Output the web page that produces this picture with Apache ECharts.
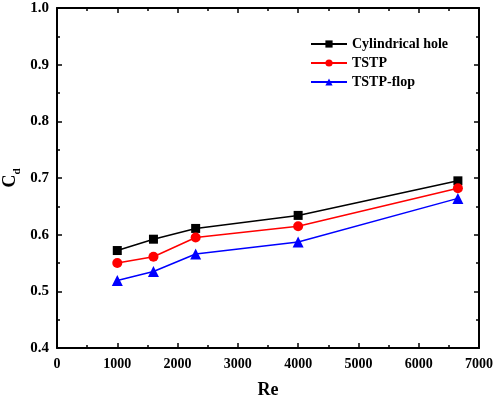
<!DOCTYPE html>
<html><head><meta charset="utf-8">
<script src="https://cdn.jsdelivr.net/npm/echarts@6/dist/echarts.min.js"></script>
<style>html,body{margin:0;padding:0;background:#fff}#c{width:498px;height:398px}</style>
</head><body><div id="c"></div>
<script>
var reValues = [1000, 1600, 2300, 4000, 6650];
var cylindrical = [0.572, 0.592, 0.611, 0.634, 0.695];
var tstp = [0.550, 0.561, 0.595, 0.615, 0.682];
var tstpFlop = [0.519, 0.535, 0.566, 0.587, 0.664];
var seriesNames = ['Cylindrical hole', 'TSTP', 'TSTP-flop'];
var xTicks = [0, 1000, 2000, 3000, 4000, 5000, 6000, 7000];
var yTicks = [0.4, 0.5, 0.6, 0.7, 0.8, 0.9, 1.0];

function pairs(xs, ys) { return xs.map(function (x, i) { return [x, ys[i]]; }); }

var font = '"Liberation Serif", "Times New Roman", serif';
var axisCommon = {
  axisLine: { show: true, onZero: false, lineStyle: { color: '#000', width: 2 } },
  axisTick: { show: true, inside: true, length: 5, lineStyle: { color: '#000', width: 1.5 } },
  minorTick: { show: true, splitNumber: 2, length: 3, lineStyle: { color: '#000', width: 1.5 } },
  splitLine: { show: false }
};
function ax(extra) { return Object.assign({}, JSON.parse(JSON.stringify(axisCommon)), extra); }

var chart = echarts.init(document.getElementById('c'));
chart.setOption({
  animation: false,
  grid: { left: 57, right: 19, top: 8, bottom: 50, containLabel: false, outerBoundsMode: 'none' },
  legend: {
    top: 37, left: 310, padding: 0, orient: 'vertical', itemGap: 5, itemWidth: 36, itemHeight: 9,
    textStyle: { fontFamily: font, fontWeight: 'bold', fontSize: 14, color: '#000' },
    data: seriesNames
  },
  xAxis: [
    ax({ type: 'value', min: xTicks[0], max: xTicks[xTicks.length - 1], interval: 1000, position: 'bottom',
      name: 'Re', nameLocation: 'middle', nameGap: 33, nameMoveOverlap: false,
      nameTextStyle: { fontFamily: font, fontWeight: 'bold', fontSize: 18, color: '#000' },
      axisLabel: { margin: 9, fontFamily: font, fontWeight: 'bold', fontSize: 14, color: '#000',
        formatter: function (v) { return String(v); } } }),
    ax({ type: 'value', min: xTicks[0], max: xTicks[xTicks.length - 1], interval: 1000, position: 'top',
      axisLabel: { show: false } })
  ],
  yAxis: [
    ax({ type: 'value', min: yTicks[0], max: yTicks[yTicks.length - 1], interval: 0.1, position: 'left',
      name: '{c|C}{d|d}', nameLocation: 'middle', nameRotate: 90, nameGap: 38, nameMoveOverlap: false,
      nameTextStyle: { rich: {
        c: { fontFamily: font, fontWeight: 'bold', fontSize: 18, color: '#000', verticalAlign: 'bottom' },
        d: { fontFamily: font, fontWeight: 'bold', fontSize: 11, color: '#000', verticalAlign: 'bottom', padding: [0, 0, -4, 0] }
      } },
      axisLabel: { margin: 8, fontFamily: font, fontWeight: 'bold', fontSize: 15, color: '#000',
        formatter: function (v) { return v.toFixed(1); } } }),
    ax({ type: 'value', min: yTicks[0], max: yTicks[yTicks.length - 1], interval: 0.1, position: 'right',
      axisLabel: { show: false } })
  ],
  series: [
    { name: seriesNames[0], type: 'line', data: pairs(reValues, cylindrical), symbol: 'rect', symbolSize: 9,
      itemStyle: { color: '#000' }, lineStyle: { color: '#000', width: 1.5 } },
    { name: seriesNames[1], type: 'line', data: pairs(reValues, tstp), symbol: 'circle', symbolSize: 10,
      itemStyle: { color: '#ff0000' }, lineStyle: { color: '#ff0000', width: 1.5 } },
    { name: seriesNames[2], type: 'line', data: pairs(reValues, tstpFlop), symbol: 'triangle', symbolSize: 11,
      itemStyle: { color: '#0000ff' }, lineStyle: { color: '#0000ff', width: 1.5 } }
  ]
});
</script></body></html>
